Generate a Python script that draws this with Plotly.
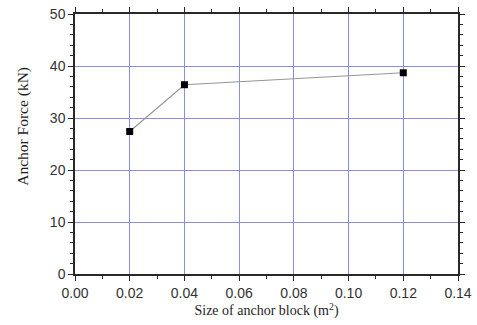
import plotly.graph_objects as go

sizes = [0.02, 0.04, 0.12]
forces = [27.4, 36.4, 38.7]
x_ticks = [0.00, 0.02, 0.04, 0.06, 0.08, 0.10, 0.12, 0.14]
x_tick_labels = ["0.00", "0.02", "0.04", "0.06", "0.08", "0.10", "0.12", "0.14"]
y_ticks = [0, 10, 20, 30, 40, 50]

fig = go.Figure()
fig.add_trace(go.Scatter(
    x=sizes, y=forces, mode="lines+markers",
    line=dict(color="rgb(150,150,150)", width=1.2),
    marker=dict(symbol="square", size=7, color="black"),
    showlegend=False,
))

axis_common = dict(
    showline=True, linecolor="rgb(40,40,40)", linewidth=1.5, mirror="ticks",
    ticks="outside", ticklen=5, tickcolor="rgb(40,40,40)",
    showgrid=True, gridcolor="rgb(140,140,235)", gridwidth=1, zeroline=False,
    automargin=False, layer="below traces",
    tickfont=dict(family="Liberation Sans, Arial", size=14, color="rgb(50,50,50)"),
)

fig.update_xaxes(
    range=[0, 0.14], tickvals=x_ticks, ticktext=x_tick_labels,
    minor=dict(dtick=0.01, ticks="outside", ticklen=3, tickcolor="rgb(40,40,40)", showgrid=False),
    title=dict(text="Size of anchor block (m<sup>2</sup>)", standoff=4,
               font=dict(family="Liberation Serif, Times New Roman", size=14, color="rgb(30,30,30)")),
    **axis_common,
)
fig.update_yaxes(
    range=[0, 50], tickvals=y_ticks,
    minor=dict(dtick=2, ticks="outside", ticklen=3, tickcolor="rgb(40,40,40)", showgrid=False),
    **axis_common,
)

fig.add_annotation(
    text="Anchor Force (kN)", textangle=-90, showarrow=False,
    xref="paper", yref="paper", x=-52 / 383, y=0.57,
    xanchor="center", yanchor="middle",
    font=dict(family="Liberation Serif, Times New Roman", size=15.5, color="rgb(30,30,30)"),
)

fig.update_layout(
    width=477, height=325,
    margin=dict(l=75, r=19, t=14, b=51),
    paper_bgcolor="white", plot_bgcolor="white",
)

fig.write_html("out.html")
